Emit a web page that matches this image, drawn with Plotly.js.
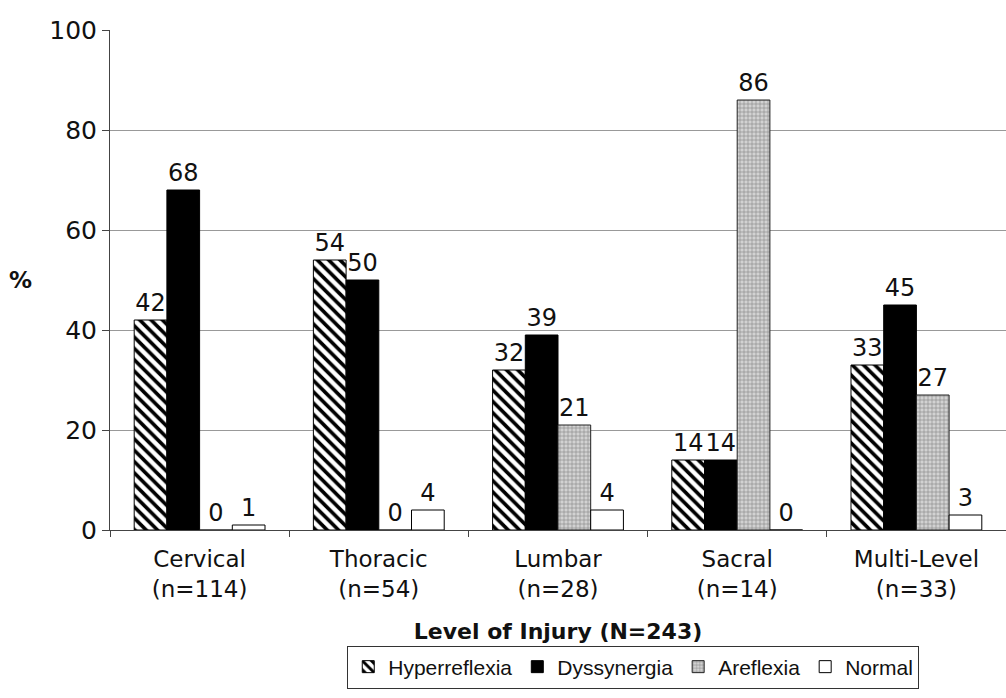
<!DOCTYPE html>
<html>
<head>
<meta charset="utf-8">
<script src="https://cdn.plot.ly/plotly-3.0.1.min.js"></script>
<style>html,body{margin:0;padding:0;background:#fff;}#chart{width:1006px;height:698px;}</style>
</head>
<body>
<div id="chart"></div>
<script>
const categories = ["Cervical<br>(n=114)", "Thoracic<br>(n=54)", "Lumbar<br>(n=28)", "Sacral<br>(n=14)", "Multi-Level<br>(n=33)"];
const hyperreflexia = [42, 54, 32, 14, 33];
const dyssynergia = [68, 50, 39, 14, 45];
const areflexia = [0, 0, 21, 86, 27];
const normal = [1, 4, 4, 0, 3];
const yTicks = [0, 20, 40, 60, 80, 100];

const fam = "'DejaVu Sans', Arial, sans-serif";
const legFam = "Arial, 'Liberation Sans', sans-serif";

function series(name, vals, marker) {
  return {
    type: "bar", name: name, x: categories, y: vals,
    text: vals.map(String), textposition: "outside", constraintext: "none",
    cliponaxis: false,
    textfont: {family: fam, size: 24, color: "#111"},
    marker: marker, hoverinfo: "skip"
  };
}

const data = [
  series("Hyperreflexia", hyperreflexia, {color: "#fff", line: {color: "#000", width: 1},
    pattern: {shape: "\\", fgcolor: "#000", bgcolor: "#fff", size: 8, solidity: 0.45}}),
  series("Dyssynergia", dyssynergia, {color: "#000", line: {color: "#000", width: 1}}),
  series("Areflexia", areflexia, {color: "#c4c4c4", line: {color: "#222", width: 1},
    pattern: {shape: "+", fgcolor: "#888", bgcolor: "#d2d2d2", size: 4, solidity: 0.3}}),
  series("Normal", normal, {color: "#fff", line: {color: "#000", width: 1}})
];

const layout = {
  width: 1006, height: 698,
  margin: {l: 110, r: 0, t: 30, b: 168},
  paper_bgcolor: "#fff", plot_bgcolor: "#fff",
  font: {family: fam, size: 23, color: "#111"},
  barmode: "group", bargap: 0.27, bargroupgap: 0,
  showlegend: true,
  legend: {orientation: "h", x: 0.584, xanchor: "center", y: -0.274, yanchor: "middle",
    bordercolor: "#333", borderwidth: 1, bgcolor: "#fff",
    font: {family: legFam, size: 21, color: "#111"},
    itemwidth: 30, tracegroupgap: 0, traceorder: "normal"},
  xaxis: {
    type: "category", tickson: "boundaries", ticks: "outside", ticklen: 6, tickcolor: "#444",
    showline: true, linecolor: "#444", linewidth: 1, showgrid: false,
    ticklabelstandoff: 8,
    tickfont: {family: fam, size: 23, color: "#111"},
    title: {text: "<b>Level of Injury (N=243)</b>", font: {family: fam, size: 22, color: "#111"}, standoff: 23}
  },
  yaxis: {
    range: [0, 100], tickvals: yTicks, ticks: "outside", ticklen: 7, tickcolor: "#444",
    showline: true, linecolor: "#444", linewidth: 1,
    showgrid: true, gridcolor: "#999", gridwidth: 1, zeroline: false,
    tickfont: {family: fam, size: 25, color: "#111"}
  },
  annotations: [{
    text: "<b>%</b>", xref: "paper", yref: "paper", x: -0.1, y: 0.5, xanchor: "center", yanchor: "middle",
    showarrow: false, font: {family: fam, size: 23, color: "#111"}
  }]
};

Plotly.newPlot("chart", data, layout, {displayModeBar: false, staticPlot: true});
</script>
</body>
</html>
